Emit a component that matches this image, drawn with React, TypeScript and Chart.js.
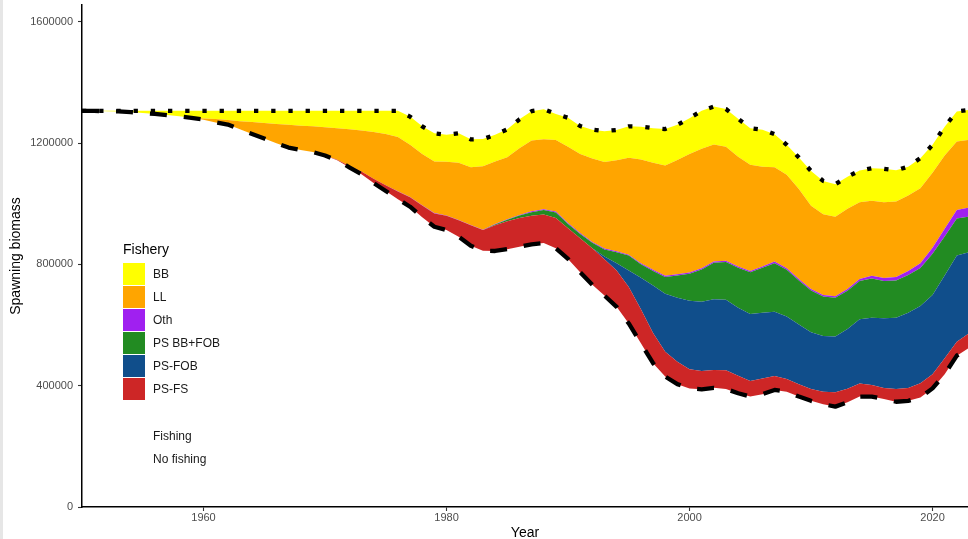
import React, { useEffect, useRef } from "react";
import { Chart, registerables } from "chart.js";

Chart.register(...registerables);

const FONT = "'Liberation Sans', Arial, Helvetica, sans-serif";

// Years (categories)
const years = [
  1950, 1951, 1952, 1953, 1954, 1955, 1956, 1957, 1958, 1959,
  1960, 1961, 1962, 1963, 1964, 1965, 1966, 1967, 1968, 1969,
  1970, 1971, 1972, 1973, 1974, 1975, 1976, 1977, 1978, 1979,
  1980, 1981, 1982, 1983, 1984, 1985, 1986, 1987, 1988, 1989,
  1990, 1991, 1992, 1993, 1994, 1995, 1996, 1997, 1998, 1999,
  2000, 2001, 2002, 2003, 2004, 2005, 2006, 2007, 2008, 2009,
  2010, 2011, 2012, 2013, 2014, 2015, 2016, 2017, 2018, 2019,
  2020, 2021, 2022, 2023,
];

// Values in thousand tonnes
const fishing = [
  1306, 1306, 1305, 1304, 1302, 1299, 1296, 1292, 1288, 1283,
  1277, 1268, 1261, 1245, 1230, 1215, 1199, 1185, 1177, 1170,
  1159, 1143, 1120, 1097, 1068, 1042, 1015, 990, 955, 924,
  913, 891, 861, 845, 844, 850, 858, 866, 870, 853,
  818, 774, 733, 697, 660, 605, 540, 474, 430, 405,
  391, 388, 393, 389, 375, 364, 372, 386, 380, 364,
  350, 339, 331, 345, 364, 364, 356, 347, 350, 361,
  391, 438, 499, 525,
];

const noFishing = [
  1306, 1306, 1306, 1306, 1306, 1306, 1306, 1306, 1306, 1306,
  1306, 1306, 1306, 1306, 1306, 1306, 1306, 1306, 1306, 1306,
  1306, 1306, 1306, 1306, 1306, 1306, 1306, 1287, 1255, 1232,
  1227, 1232, 1212, 1213, 1227, 1245, 1278, 1305, 1311, 1296,
  1283, 1256, 1244, 1239, 1243, 1255, 1254, 1249, 1246, 1260,
  1282, 1306, 1320, 1312, 1280, 1249, 1244, 1229, 1194, 1152,
  1108, 1075, 1064, 1089, 1109, 1117, 1115, 1110, 1122, 1150,
  1194, 1254, 1304, 1309,
];

const psFS = [
  0, 0, 0, 0, 0, 0, 0, 0, 0, 0,
  0, 0, 0, 0, 0, 0, 0, 0, 0, 0,
  1, 2, 5, 9, 14, 19, 25, 31, 39, 44,
  47, 54, 68, 68, 85, 92, 95, 94, 94, 100,
  101, 112, 120, 120, 120, 120, 112, 100, 82, 74,
  63, 60, 59, 62, 58, 51, 52, 46, 42, 41,
  39, 41, 47, 45, 43, 38, 36, 42, 42, 47,
  47, 52, 46, 48,
];

const psFOB = [
  0, 0, 0, 0, 0, 0, 0, 0, 0, 0,
  0, 0, 0, 0, 0, 0, 0, 0, 0, 0,
  0, 0, 0, 0, 0, 0, 0, 0, 0, 0,
  0, 0, 0, 0, 0, 0, 0, 0, 0, 0,
  0, 0, 0, 9, 24, 55, 104, 156, 191, 211,
  226, 229, 233, 232, 224, 221, 216, 212, 206, 197,
  187, 184, 184, 197, 212, 222, 230, 235, 248, 255,
  261, 273, 284, 267,
];

const psBBFOB = [
  0, 0, 0, 0, 0, 0, 0, 0, 0, 0,
  0, 0, 0, 0, 0, 0, 0, 0, 0, 0,
  0, 0, 0, 0, 0, 0, 0, 0, 0, 0,
  0, 0, 0, 0, 2, 5, 8, 12, 15, 18,
  14, 14, 18, 23, 36, 49, 44, 48, 55, 73,
  89, 106, 120, 125, 132, 138, 149, 160, 154, 145,
  138, 130, 128, 126, 126, 129, 123, 123, 125, 125,
  136, 129, 122, 117,
];

const oth = [
  0, 0, 0, 0, 0, 0, 0, 0, 0, 0,
  0, 0, 0, 0, 0, 0, 0, 0, 0, 0,
  0, 0, 0, 0, 0, 0, 1, 1, 1, 1,
  1, 1, 1, 1, 2, 2, 2, 3, 3, 3,
  3, 3, 3, 3, 3, 3, 4, 4, 4, 4,
  4, 4, 4, 4, 4, 4, 4, 5, 5, 5,
  5, 5, 5, 6, 7, 9, 10, 11, 13, 16,
  20, 25, 28, 30,
];

const ll = [
  0, 0, 0, 0, 0, 0, 0, 0, 0, 0,
  4, 11, 15, 27, 39, 51, 64, 75, 80, 85,
  92, 104, 120, 135, 154, 169, 179, 172, 169, 170,
  177, 189, 190, 209, 206, 204, 220, 233, 230, 236,
  252, 261, 275, 285, 300, 319, 342, 353, 364, 377,
  391, 394, 386, 376, 362, 350, 329, 311, 308, 296,
  274, 266, 262, 264, 253, 248, 250, 249, 249, 247,
  247, 242, 226, 223,
];

const bb = [
  0, 0, 1, 2, 4, 7, 10, 14, 18, 23,
  25, 27, 30, 34, 37, 40, 43, 46, 49, 51,
  54, 57, 61, 65, 70, 76, 86, 93, 91, 93,
  89, 97, 92, 90, 88, 92, 95, 97, 99, 86,
  95, 92, 95, 102, 100, 104, 108, 114, 120, 116,
  118, 125, 125, 124, 125, 121, 122, 109, 99, 104,
  115, 110, 107, 106, 104, 107, 110, 103, 95, 99,
  92, 95, 99, 99,
];

const UNIT = 1000;

// Stack order, bottom to top
const fisheries = [
  { name: "PS-FS", values: psFS, color: "#CD2626" },
  { name: "PS-FOB", values: psFOB, color: "#104E8B" },
  { name: "PS BB+FOB", values: psBBFOB, color: "#228B22" },
  { name: "Oth", values: oth, color: "#A020F0" },
  { name: "LL", values: ll, color: "#FFA500" },
  { name: "BB", values: bb, color: "#FFFF00" },
];

const lineNames = ["Fishing", "No fishing"];
const xTicks = [1960, 1980, 2000, 2020];
const yTicks = [0, 400000, 800000, 1200000, 1600000];
const X_MIN = 1950;
const X_MAX = 2022.92;
const Y_MAX = 1655000;

const toPoints = (arr: number[]) => arr.map((v, i) => ({ x: years[i], y: v * UNIT }));

export default function App() {
  const canvasRef = useRef<HTMLCanvasElement | null>(null);

  useEffect(() => {
    document.body.style.margin = "0";
    const canvas = canvasRef.current;
    if (!canvas) return;

    const datasets: any[] = [
      {
        label: lineNames[0],
        data: toPoints(fishing),
        borderColor: "#000000",
        borderWidth: 4.3,
        borderDash: [17, 17],
        borderCapStyle: "butt",
        borderJoinStyle: "round",
        fill: false,
        pointRadius: 0,
        tension: 0,
      },
      {
        label: lineNames[1],
        data: toPoints(noFishing),
        borderColor: "#000000",
        borderWidth: 4.3,
        borderDash: [4.3, 12.9],
        borderCapStyle: "butt",
        borderJoinStyle: "round",
        fill: false,
        pointRadius: 0,
        tension: 0,
      },
    ];

    let cum = fishing.slice();
    fisheries.forEach((f, k) => {
      cum = cum.map((c, i) => c + f.values[i]);
      datasets.push({
        label: f.name,
        data: toPoints(cum),
        borderWidth: 0,
        borderColor: "rgba(0,0,0,0)",
        backgroundColor: f.color,
        fill: k === 0 ? 0 : datasets.length - 1,
        pointRadius: 0,
        tension: 0,
      });
    });

    const zeroPad = (s: any) => {
      s.paddingTop = 0;
      s.paddingBottom = 0;
      s.paddingLeft = 0;
      s.paddingRight = 0;
    };

    const chart = new Chart(canvas, {
      type: "line",
      data: { datasets },
      options: {
        animation: false,
        responsive: false,
        devicePixelRatio: 1,
        layout: { padding: { left: 0, right: 0, top: 5, bottom: 0 } },
        plugins: {
          legend: { display: false },
          tooltip: { enabled: false },
          filler: { drawTime: "beforeDatasetsDraw" },
        } as any,
        elements: { point: { radius: 0 }, line: { tension: 0 } },
        scales: {
          x: {
            type: "linear",
            min: X_MIN,
            max: X_MAX,
            grid: {
              display: true,
              drawOnChartArea: false,
              drawTicks: true,
              tickLength: 4,
              tickColor: "#333333",
              tickWidth: 1.1,
            },
            border: { display: true, color: "#000000", width: 1.5 },
            ticks: {
              padding: 0,
              color: "#4d4d4d",
              font: { family: FONT, size: 11 },
              autoSkip: false,
              maxRotation: 0,
              callback: (v: any) => String(v),
            },
            afterBuildTicks: (s: any) => {
              s.ticks = xTicks.map((v) => ({ value: v }));
            },
            afterFit: (s: any) => {
              s.height = 32;
              zeroPad(s);
            },
            title: {
              display: true,
              text: "Year",
              color: "#000000",
              font: { family: FONT, size: 14, lineHeight: 0.8 },
              padding: 0,
            },
          },
          y: {
            type: "linear",
            min: 0,
            max: Y_MAX,
            grid: {
              display: true,
              drawOnChartArea: false,
              drawTicks: true,
              tickLength: 4,
              tickColor: "#333333",
              tickWidth: 1.1,
            },
            border: { display: true, color: "#000000", width: 1.5 },
            ticks: {
              padding: 5,
              color: "#4d4d4d",
              font: { family: FONT, size: 11 },
              autoSkip: false,
              callback: (v: any) => String(v),
            },
            afterBuildTicks: (s: any) => {
              s.ticks = yTicks.map((v) => ({ value: v }));
            },
            afterFit: (s: any) => {
              s.width = 82;
              zeroPad(s);
            },
            title: {
              display: true,
              text: "Spawning biomass",
              color: "#000000",
              font: { family: FONT, size: 14, lineHeight: 1.2 },
              padding: { top: 8, bottom: 0 },
            },
          },
        },
      } as any,
    });

    return () => chart.destroy();
  }, []);

  const legendItems = fisheries.slice().reverse();

  return (
    <div
      style={{
        position: "relative",
        width: 968,
        height: 539,
        overflow: "hidden",
        background: "#ffffff",
      }}
    >
      <canvas
        ref={canvasRef}
        width={968}
        height={539}
        style={{ display: "block", width: 968, height: 539 }}
      />
      <div
        style={{
          position: "absolute",
          left: 0,
          top: 0,
          width: 3,
          height: 539,
          background: "#e6e6e6",
        }}
      />
      <div
        style={{
          position: "absolute",
          left: 123,
          top: 242,
          fontFamily: FONT,
          fontSize: 14,
          lineHeight: "14px",
          color: "#000000",
          whiteSpace: "nowrap",
        }}
      >
        Fishery
      </div>
      {legendItems.map((it, i) => (
        <React.Fragment key={it.name}>
          <div
            style={{
              position: "absolute",
              left: 123,
              top: 263 + 23 * i,
              width: 22,
              height: 22,
              background: it.color,
            }}
          />
          <div
            style={{
              position: "absolute",
              left: 153,
              top: 263 + 23 * i,
              height: 22,
              fontFamily: FONT,
              fontSize: 12,
              lineHeight: "22px",
              color: "#1a1a1a",
              whiteSpace: "nowrap",
            }}
          >
            {it.name}
          </div>
        </React.Fragment>
      ))}
      {lineNames.map((n, i) => (
        <div
          key={n}
          style={{
            position: "absolute",
            left: 153,
            top: 425 + 23 * i,
            height: 22,
            fontFamily: FONT,
            fontSize: 12,
            lineHeight: "22px",
            color: "#1a1a1a",
            whiteSpace: "nowrap",
          }}
        >
          {n}
        </div>
      ))}
    </div>
  );
}
